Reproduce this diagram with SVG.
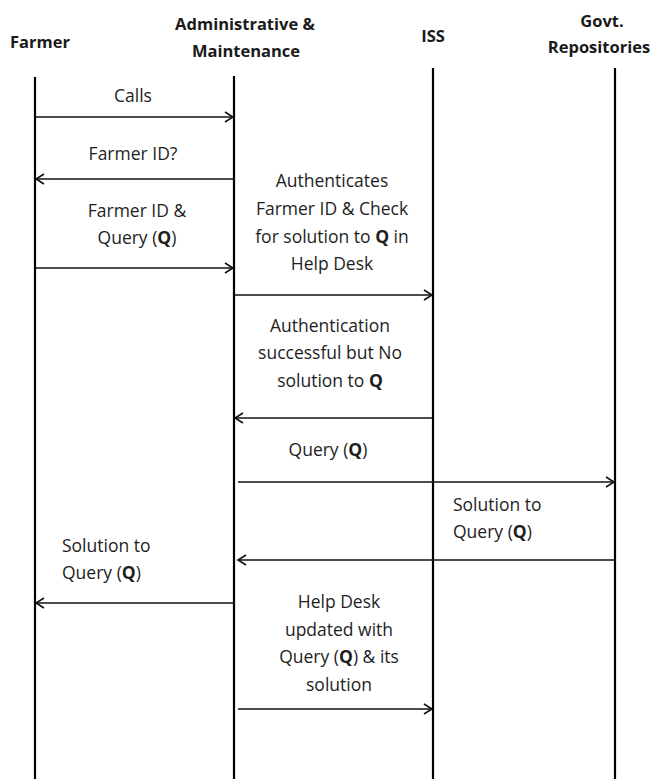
<svg xmlns="http://www.w3.org/2000/svg" width="659" height="779" viewBox="0 0 659 779">
  <style>
    .head { font-family: "Open Sans", "Liberation Sans", sans-serif; font-weight: bold; font-size: 16.5px; fill: #1a1a1a; text-anchor: middle; }
    .lbl { font-family: "Open Sans", "Liberation Sans", sans-serif; font-size: 17.5px; fill: #1e1e1e; }
    .mid { text-anchor: middle; }
    .life { stroke: #000; stroke-width: 2.2; fill: none; }
    .msg { stroke: #111; stroke-width: 1.5; fill: none; marker-end: url(#arrow); }
    .b { font-weight: bold; }
  </style>
  <defs>
    <marker id="arrow" markerUnits="userSpaceOnUse" markerWidth="14" markerHeight="14" refX="9" refY="6" orient="auto">
      <path d="M1,1 L9,6 L1,11" fill="none" stroke="#111" stroke-width="1.6"/>
    </marker>
  </defs>
  <rect width="659" height="779" fill="#fff"/>

  <!-- participants with their lifelines -->
  <g id="farmer">
    <text class="head" x="40" y="48">Farmer</text>
    <line class="life" x1="35" y1="77" x2="35" y2="779"/>
  </g>
  <g id="admin">
    <text class="head" x="245" y="30">Administrative &amp;</text>
    <text class="head" x="246" y="57">Maintenance</text>
    <line class="life" x1="234" y1="76" x2="234" y2="779"/>
  </g>
  <g id="iss">
    <text class="head" x="433" y="42">ISS</text>
    <line class="life" x1="433" y1="68" x2="433" y2="779"/>
  </g>
  <g id="govt">
    <text class="head" x="602" y="27">Govt.</text>
    <text class="head" x="599" y="53">Repositories</text>
    <line class="life" x1="615" y1="68" x2="615" y2="779"/>
  </g>

  <!-- messages -->
  <g id="connectors">
    <line class="msg" x1="35" y1="117" x2="233" y2="117"/>
    <line class="msg" x1="234" y1="179" x2="36" y2="179"/>
    <line class="msg" x1="35" y1="268" x2="233" y2="268"/>
    <line class="msg" x1="234" y1="295" x2="432" y2="295"/>
    <line class="msg" x1="433" y1="418" x2="235" y2="418"/>
    <line class="msg" x1="238" y1="482" x2="614" y2="482"/>
    <line class="msg" x1="615" y1="560" x2="238" y2="560"/>
    <line class="msg" x1="234" y1="603" x2="36" y2="603"/>
    <line class="msg" x1="238" y1="709" x2="432" y2="709"/>
  </g>

  <!-- message labels -->
  <g id="labels">
    <text class="lbl mid" x="133" y="102">Calls</text>
    <text class="lbl mid" x="133" y="160">Farmer ID?</text>
    <text class="lbl mid" x="137" y="217">Farmer ID &amp;</text>
    <text class="lbl mid" x="137" y="244">Query (<tspan class="b">Q</tspan>)</text>

    <text class="lbl mid" x="332" y="187">Authenticates</text>
    <text class="lbl mid" x="332" y="215">Farmer ID &amp; Check</text>
    <text class="lbl mid" x="332" y="243">for solution to <tspan class="b">Q</tspan> in</text>
    <text class="lbl mid" x="332" y="270">Help Desk</text>

    <text class="lbl mid" x="330" y="332">Authentication</text>
    <text class="lbl mid" x="330" y="359">successful but No</text>
    <text class="lbl mid" x="330" y="387">solution to <tspan class="b">Q</tspan></text>

    <text class="lbl mid" x="328" y="456">Query (<tspan class="b">Q</tspan>)</text>

    <text class="lbl" x="453" y="511">Solution to</text>
    <text class="lbl" x="453" y="538">Query (<tspan class="b">Q</tspan>)</text>

    <text class="lbl" x="62" y="552">Solution to</text>
    <text class="lbl" x="62" y="579">Query (<tspan class="b">Q</tspan>)</text>

    <text class="lbl mid" x="339" y="608">Help Desk</text>
    <text class="lbl mid" x="339" y="636">updated with</text>
    <text class="lbl mid" x="339" y="663">Query (<tspan class="b">Q</tspan>) &amp; its</text>
    <text class="lbl mid" x="339" y="691">solution</text>
  </g>
</svg>
